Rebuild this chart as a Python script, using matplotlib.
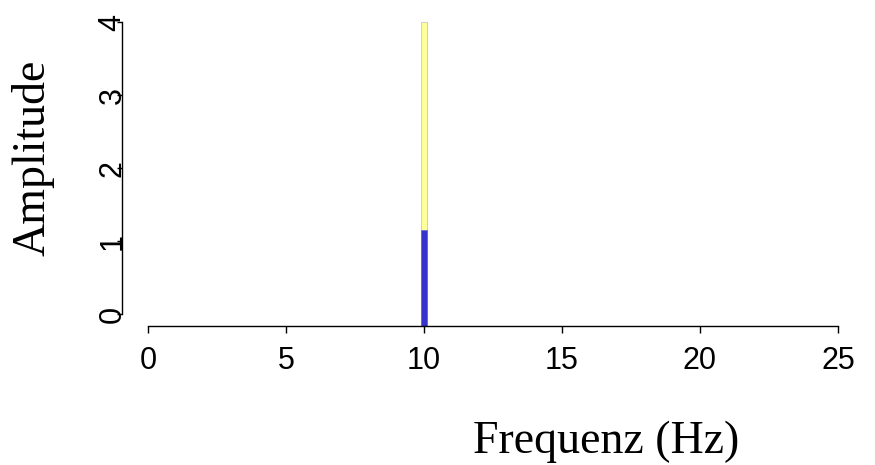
import matplotlib
matplotlib.use('Agg')
import matplotlib.pyplot as plt

# spectrum data
freq = [10]
amp_total = [4.0]   # yellow bar
amp_part = [1.15]   # blue bar drawn on top
x_ticks = [0, 5, 10, 15, 20, 25]
y_ticks = [0, 1, 2, 3, 4]

W, H = 875, 465
fig = plt.figure(figsize=(W / 100, H / 100), dpi=100)
# axes box in pixels: left 122, right 838, top 22, bottom 326
ax = fig.add_axes([122 / W, 1 - 326 / H, (838 - 122) / W, (326 - 22) / H])

y_floor = -0.16
ax.set_xlim(-26 / 27.6, 25)
ax.set_ylim(y_floor, 4)

bar_w = 6.5 / 27.6
ax.bar(freq, [a - y_floor for a in amp_total], bottom=y_floor, width=bar_w,
       color='#ffff99', edgecolor='#c8c8c8', linewidth=0.6)
ax.bar(freq, [a - y_floor for a in amp_part], bottom=y_floor, width=bar_w,
       color='#3535cc', edgecolor='#5555dd', linewidth=0.4)

for s in ['top', 'right']:
    ax.spines[s].set_visible(False)
ax.spines['left'].set_bounds(0, 4)
ax.spines['bottom'].set_bounds(0, 25)
for s in ['left', 'bottom']:
    ax.spines[s].set_linewidth(1.0)
    ax.spines[s].set_color('black')

ax.set_xticks(x_ticks)
ax.set_yticks(y_ticks)
tick_font = {'family': 'Liberation Sans', 'size': 22}
ax.set_xticklabels([str(t) for t in x_ticks], fontdict=tick_font)
ax.set_yticklabels([str(t) for t in y_ticks], fontdict=tick_font,
                   rotation=90, va='center')
ax.tick_params(axis='x', length=5, width=1, pad=9.5)
ax.tick_params(axis='y', length=3.6, width=1, pad=-7.5)

fig.text(606 / W, 1 - 453 / H, 'Frequenz (Hz)', ha='center', va='baseline',
         family='Liberation Serif', size=33)
fig.text(45 / W, 1 - 157.5 / H, 'Amplitude', rotation=90,
         rotation_mode='anchor', ha='center', va='baseline',
         family='Liberation Serif', size=33)

fig.savefig('out.png', dpi=100)
